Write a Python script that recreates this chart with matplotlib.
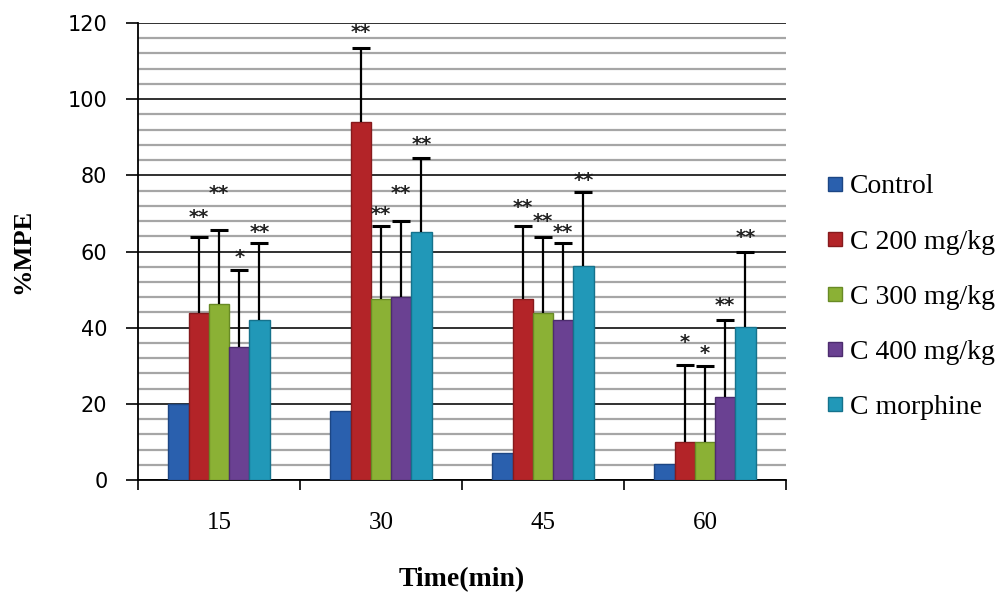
import numpy as np
import matplotlib
matplotlib.use("Agg")
import matplotlib.pyplot as plt
from matplotlib.lines import Line2D
from matplotlib.ticker import MultipleLocator

# data
times = ["15", "30", "45", "60"]
series = ["Control", "C 200 mg/kg", "C 300 mg/kg", "C 400 mg/kg", "C morphine"]
colors = ["#2A60AE", "#B32428", "#8BB135", "#6A4192", "#2198B8"]
edges = ["#1C4684", "#861A1D", "#688A25", "#4C2C6E", "#15728C"]

means = [
    [20, 18, 7, 4.2],        # Control
    [43.8, 94, 47.5, 10],    # C 200
    [46.2, 47.5, 43.8, 10],  # C 300
    [34.9, 48, 42, 21.8],    # C 400
    [42, 65, 56.2, 40.2],    # morphine
]
err_top = [
    None,
    [63.8, 113.4, 66.7, 30.2],
    [65.6, 66.7, 63.8, 30],
    [55.1, 68, 62.2, 42],
    [62.2, 84.5, 75.6, 59.8],
]
stars = [
    None,
    ["**", "**", "**", "*"],
    ["**", "**", "**", "*"],
    ["*", "**", "**", "**"],
    ["**", "**", "**", "**"],
]
star_y = [
    None,
    [69, 117.6, 71.6, 36],
    [75.3, 69.8, 68, 33.3],
    [58.5, 75.3, 65, 45.7],
    [65, 88.2, 78.7, 63.8],
]

fig = plt.figure(figsize=(10.04, 5.98), dpi=100)
ax = fig.add_axes([138/1004, 1-480/598, (786-138)/1004, (480-23)/598])

x = np.arange(len(times))
w = 0.125
for i, name in enumerate(series):
    xs = x + (i - 2) * w
    ax.bar(xs, means[i], w, color=colors[i], edgecolor=edges[i], linewidth=1, zorder=3)
    if err_top[i] is not None:
        up = np.array(err_top[i]) - np.array(means[i])
        eb = ax.errorbar(xs, means[i], yerr=[np.zeros(len(up)), up], fmt="none",
                         ecolor="black", elinewidth=1.6, capsize=6.5, capthick=2.2, zorder=4)
        # only the upper cap is drawn in the original
        eb[1][0].set_visible(False)
        for xx, s, yy in zip(xs, stars[i], star_y[i]):
            ax.text(xx, yy, s, ha="center", va="center", fontsize=14,
                    fontweight="bold", color="#222222", zorder=5)

ax.set_xlim(-0.5, 3.5)
ax.set_ylim(0, 120)

ax.yaxis.set_major_locator(MultipleLocator(20))
ax.yaxis.set_minor_locator(MultipleLocator(4))
ax.grid(axis="y", which="minor", color="#a6a6a6", linewidth=1.6, zorder=0)
ax.grid(axis="y", which="major", color="#303030", linewidth=1.4, zorder=1)
ax.tick_params(axis="y", which="major", direction="out", length=9, width=1.2, pad=13,
               labelsize=15)
ax.tick_params(axis="y", which="minor", length=0)

ax.set_xticks(x)
ax.set_xticklabels(times, family="Liberation Serif", fontsize=18)
ax.set_xticks(np.arange(-0.5, 4.0, 1.0), minor=True)
ax.tick_params(axis="x", which="major", length=0, pad=23)
ax.tick_params(axis="x", which="minor", direction="out", length=7, width=1.2)

for side in ["top", "right"]:
    ax.spines[side].set_visible(False)
ax.spines["left"].set_color("black")
ax.spines["bottom"].set_color("black")
ax.spines["left"].set_linewidth(1.3)
ax.spines["bottom"].set_linewidth(1.3)

ax.set_ylabel("%MPE", family="Liberation Serif", fontweight="bold", fontsize=19, labelpad=24)
ax.set_xlabel("Time(min)", family="Liberation Serif", fontweight="bold", fontsize=20, labelpad=24)

handles = [Line2D([], [], marker="s", linestyle="none", markersize=10,
                  markerfacecolor=c, markeredgecolor=e) for c, e in zip(colors, edges)]
fig.legend(handles, series, loc="center left", bbox_to_anchor=(811/1004, 1-297/598),
           frameon=False, prop={"family": "Liberation Serif", "size": 20},
           handletextpad=0.1, labelspacing=1.07, handlelength=0.9, borderaxespad=0)

fig.savefig("out.png", dpi=100)
